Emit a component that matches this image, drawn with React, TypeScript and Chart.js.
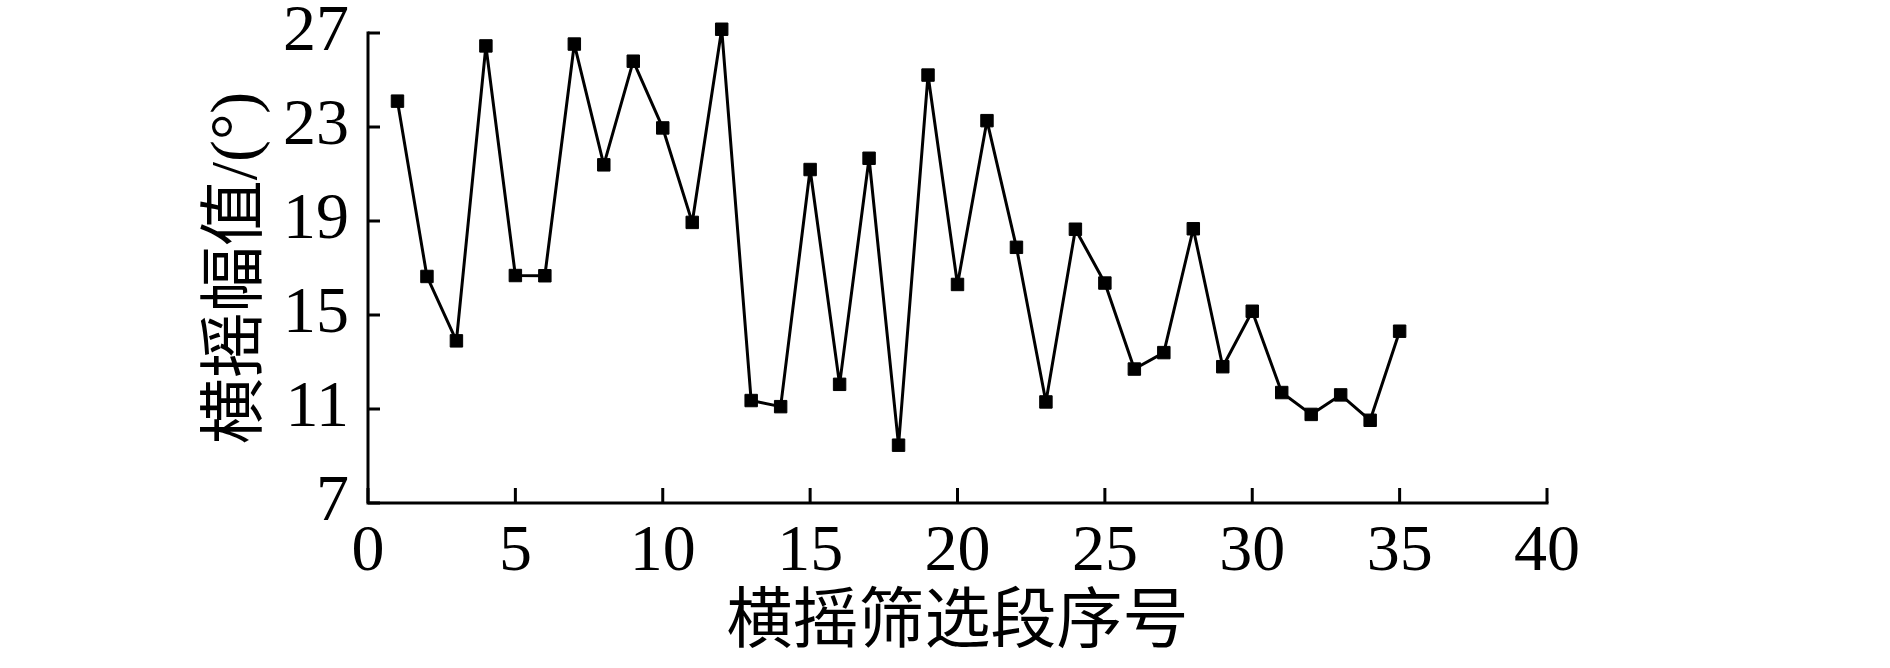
import React, { useEffect, useRef } from "react";
import { Chart, registerables } from "chart.js";

Chart.register(...registerables);

const segmentIndex: number[] = [
  1, 2, 3, 4, 5, 6, 7, 8, 9, 10, 11, 12, 13, 14, 15, 16, 17, 18,
  19, 20, 21, 22, 23, 24, 25, 26, 27, 28, 29, 30, 31, 32, 33, 34, 35,
];
const rollAmplitude: number[] = [
  24.1, 16.64, 13.9, 26.45, 16.68, 16.67, 26.53, 21.39, 25.8, 22.96, 18.94, 27.16,
  11.36, 11.1, 21.19, 12.05, 21.67, 9.46, 25.21, 16.3, 23.27, 17.88, 11.3, 18.65,
  16.36, 12.7, 13.4, 18.67, 12.8, 15.16, 11.7, 10.77, 11.6, 10.52, 14.31,
];
const xTicks: number[] = [0, 5, 10, 15, 20, 25, 30, 35, 40];
const yTicks: number[] = [7, 11, 15, 19, 23, 27];
const xTitle = "横摇筛选段序号";
const yTitle = "横摇幅值/(°)";

const FONT_FAMILY = '"Liberation Serif", "Noto Sans CJK SC", serif';

const axesPlugin = {
  id: "innerAxes",
  afterDraw(chart: any) {
    const ctx = chart.ctx;
    const xs = chart.scales.x;
    const ys = chart.scales.y;
    const x0 = xs.getPixelForValue(xTicks[0]);
    const x1 = xs.getPixelForValue(xTicks[xTicks.length - 1]);
    const y0 = ys.getPixelForValue(yTicks[0]);
    const y1 = ys.getPixelForValue(yTicks[yTicks.length - 1]);
    ctx.save();
    ctx.strokeStyle = "#000";
    ctx.lineWidth = 3;
    ctx.lineCap = "butt";
    ctx.beginPath();
    ctx.moveTo(x0, y1 - 1.5);
    ctx.lineTo(x0, y0);
    ctx.lineTo(x1 + 1.5, y0);
    ctx.stroke();
    ctx.beginPath();
    for (const t of xTicks) {
      const px = xs.getPixelForValue(t);
      ctx.moveTo(px, y0);
      ctx.lineTo(px, y0 - 15);
    }
    for (const t of yTicks) {
      const py = ys.getPixelForValue(t);
      ctx.moveTo(x0, py);
      ctx.lineTo(x0 + 12, py);
    }
    ctx.stroke();
    ctx.restore();
  },
};

export default function App() {
  const canvasRef = useRef<HTMLCanvasElement | null>(null);

  useEffect(() => {
    document.body.style.margin = "0";
    const canvas = canvasRef.current;
    if (!canvas) return;
    const chart = new Chart(canvas, {
      type: "line",
      data: {
        datasets: [
          {
            data: segmentIndex.map((x, i) => ({ x, y: rollAmplitude[i] })),
            borderColor: "#000",
            backgroundColor: "#000",
            borderWidth: 3,
            borderJoinStyle: "round",
            pointStyle: "rect",
            pointRadius: 8.8,
            pointBorderWidth: 1,
            pointBorderColor: "#000",
            pointBackgroundColor: "#000",
            tension: 0,
            clip: false as any,
          },
        ],
      },
      options: {
        animation: false,
        responsive: false,
        maintainAspectRatio: false,
        events: [],
        layout: { padding: { left: 190, right: 343, top: 33, bottom: 0 } },
        plugins: {
          legend: { display: false },
          tooltip: { enabled: false },
        },
        scales: {
          x: {
            type: "linear",
            min: 0,
            max: 40,
            grid: { display: false, drawTicks: false },
            border: { display: false },
            afterBuildTicks: (scale: any) => {
              scale.ticks = xTicks.map((v) => ({ value: v }));
            },
            afterFit: (scale: any) => {
              scale.height = 165;
              scale.paddingLeft = 0;
              scale.paddingRight = 0;
            },
            ticks: {
              color: "#000",
              padding: 10,
              maxRotation: 0,
              autoSkip: false,
              font: { family: FONT_FAMILY, size: 66 },
            },
            title: {
              display: true,
              text: xTitle,
              color: "#000",
              padding: { top: 0, bottom: 4 },
              font: { family: FONT_FAMILY, size: 66 },
            },
          },
          y: {
            type: "linear",
            min: 7,
            max: 27,
            grid: { display: false, drawTicks: false },
            border: { display: false },
            afterBuildTicks: (scale: any) => {
              scale.ticks = yTicks.map((v) => ({ value: v }));
            },
            afterFit: (scale: any) => {
              scale.width = 178;
              scale.paddingTop = 0;
              scale.paddingBottom = 0;
            },
            ticks: {
              color: "#000",
              padding: 19,
              autoSkip: false,
              font: { family: FONT_FAMILY, size: 66 },
            },
            title: {
              display: true,
              text: yTitle,
              color: "#000",
              padding: { top: 9, bottom: 0 },
              font: { family: FONT_FAMILY, size: 66 },
            },
          },
        },
      },
      plugins: [axesPlugin],
    });
    return () => chart.destroy();
  }, []);

  return (
    <div style={{ position: "fixed", left: 0, top: 0, width: 1890, height: 668, background: "#fff" }}>
      <canvas ref={canvasRef} width={1890} height={668} style={{ width: 1890, height: 668, display: "block" }} />
    </div>
  );
}
